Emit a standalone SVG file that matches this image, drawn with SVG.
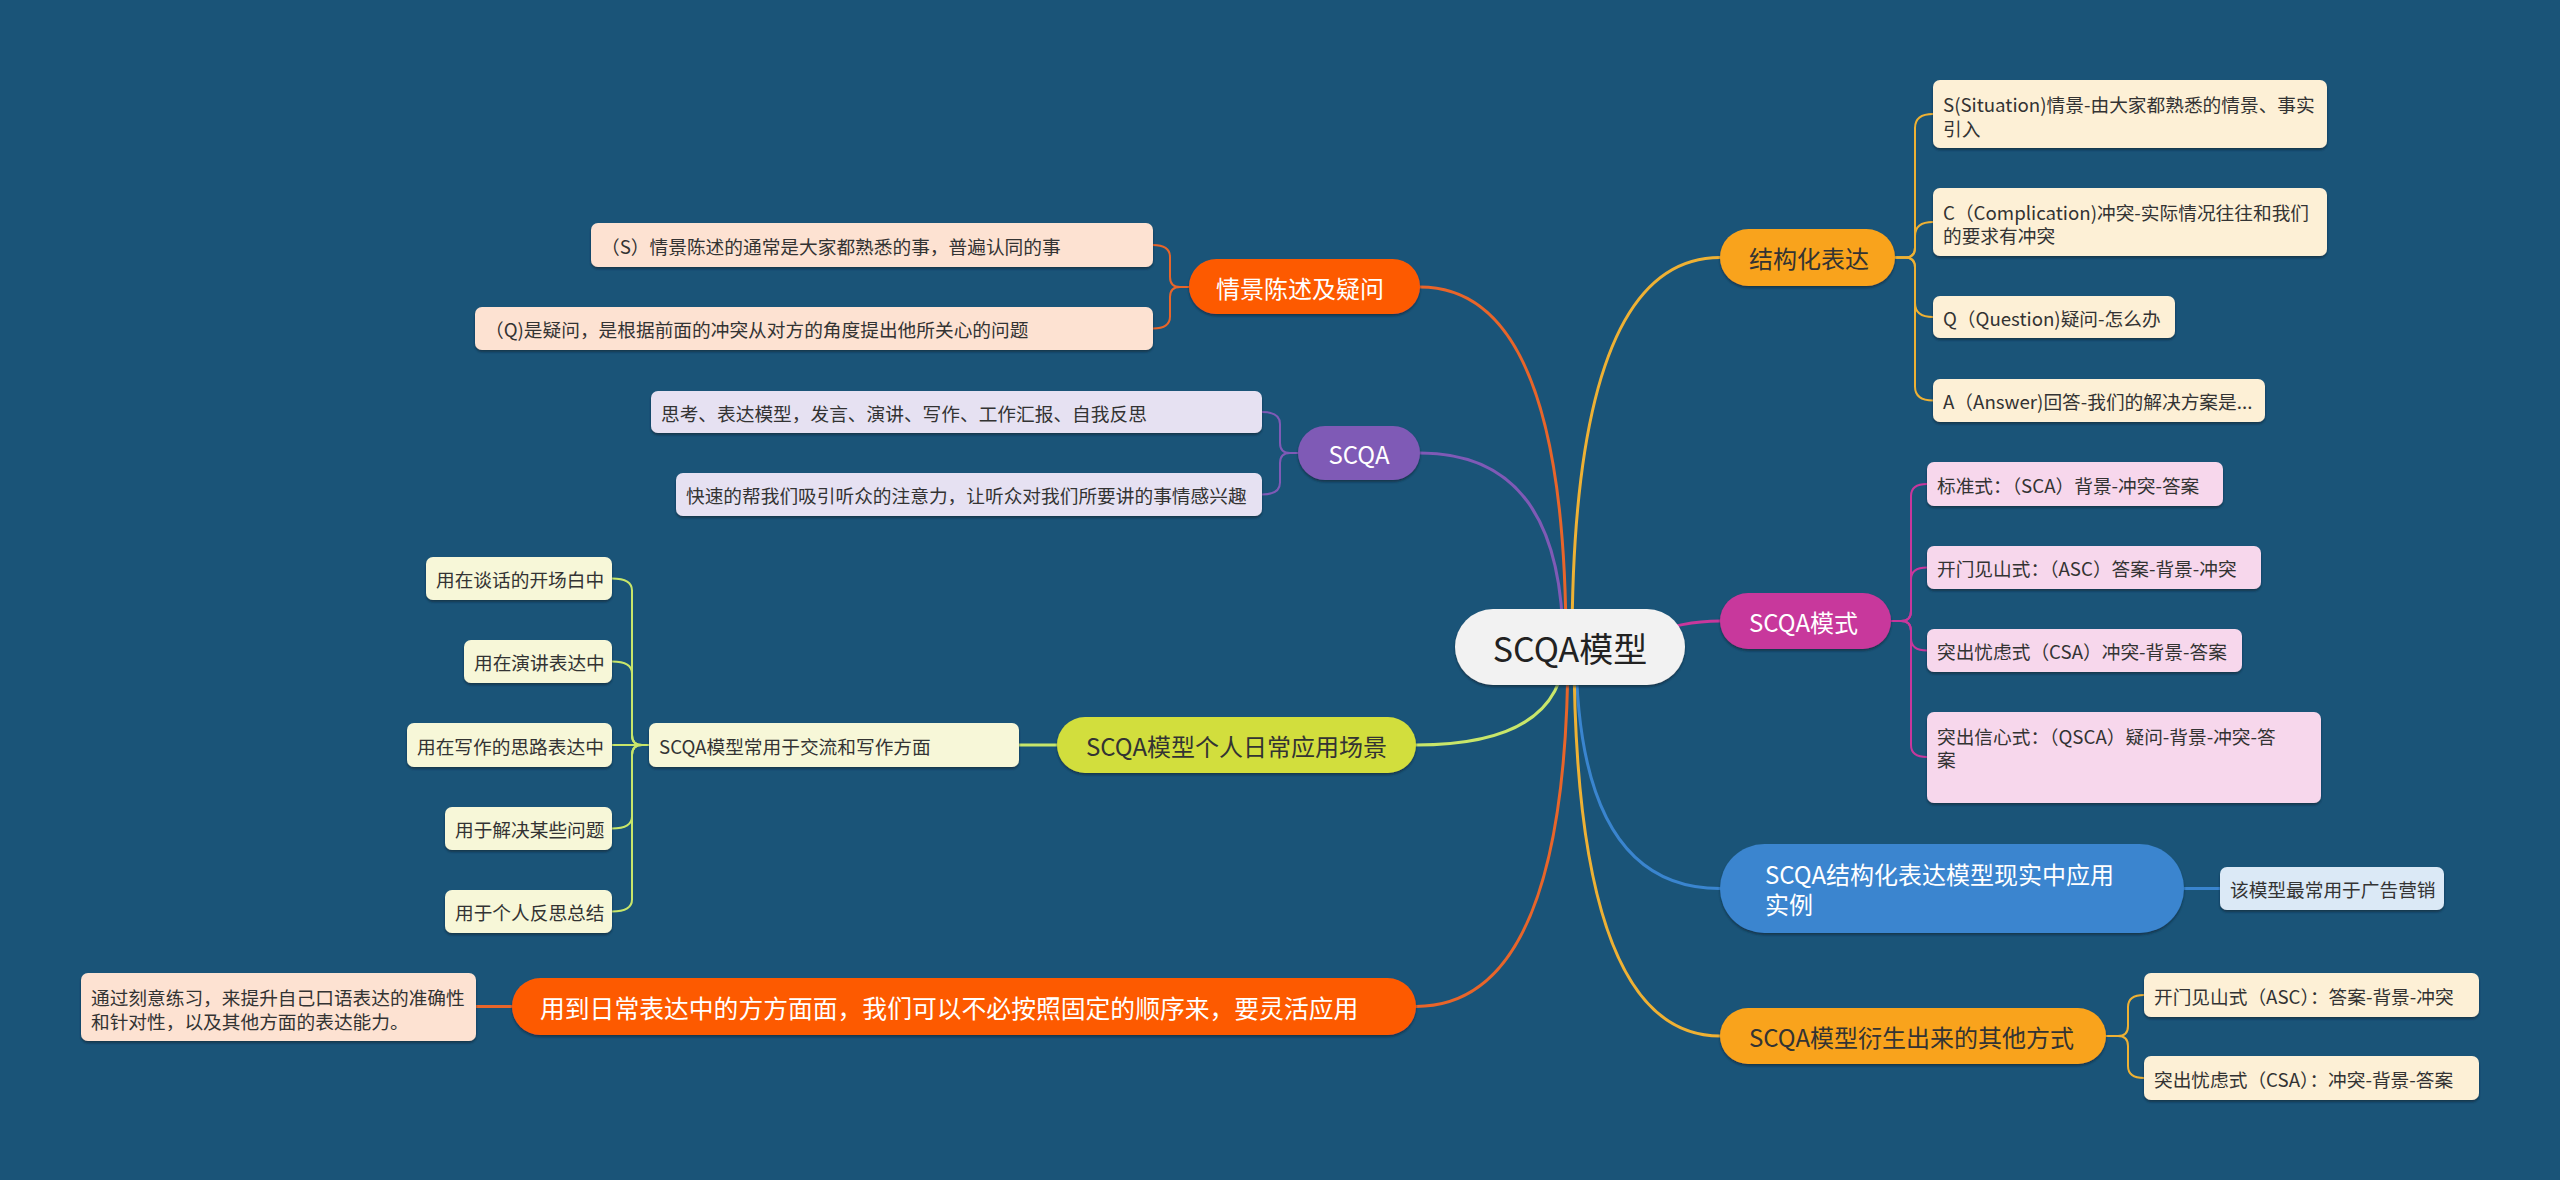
<svg xmlns="http://www.w3.org/2000/svg" width="2560" height="1180" viewBox="0 0 2560 1180">
<defs>
<filter id="sh" x="-5%" y="-20%" width="110%" height="150%"><feDropShadow dx="0" dy="2" stdDeviation="1.2" flood-color="#08263a" flood-opacity="0.7"/></filter>
</defs>
<style>
text{font-family:"Noto Sans CJK SC","Noto Sans",sans-serif;dominant-baseline:central}
.main{font-size:24px}
.leaf{font-size:18.7px;fill:#333}
.w{fill:#fff}
.d{fill:#333}
.c{fill:none;stroke-width:3;stroke-linecap:round}
.s{fill:none;stroke-width:2}
.or{stroke:#e8652a}.pu{stroke:#7f5ab6}.gr{stroke:#c8e66a}.ye{stroke:#eeb134}.mg{stroke:#c8379c}.bl{stroke:#3a85cf}
.lp{fill:#fde2d2}.ll{fill:#e6e1f2}.lg{fill:#f7f7d8}.lc{fill:#fdf0d6}.lk{fill:#f7d7ec}.lb{fill:#dbe9f6}
rect{filter:url(#sh)}
</style>
<rect x="0" y="0" width="2560" height="1180" fill="#1a5478" style="filter:none"/>
<g id="connectors">
<path class="c or" d="M1420 287 Q1566 287 1566 646"/>
<path class="c pu" d="M1420 453 Q1563 453 1563 646"/>
<path class="c gr" d="M1416 745 Q1565 745 1565 646"/>
<path class="c or" d="M1416 1006.5 Q1568 1006.5 1568 646"/>
<path class="c ye" d="M1720 257.5 Q1572 257.5 1572 646"/>
<path class="c mg" d="M1570 646 C1640 646 1660 621 1720 621"/>
<path class="c bl" d="M1720 888.5 Q1576 888.5 1576 646"/>
<path class="c ye" d="M1720 1036 Q1574 1036 1574 646"/>
<g class="s ye">
<path d="M1895 257.5 H1905 Q1915 257.5 1915 247.5 L1915 128 Q1915 114 1933 114"/>
<path d="M1895 257.5 H1905 Q1915 257.5 1915 247.5 L1915 236 Q1915 222 1933 222"/>
<path d="M1895 257.5 H1905 Q1915 257.5 1915 267.5 L1915 303 Q1915 317 1933 317"/>
<path d="M1895 257.5 H1905 Q1915 257.5 1915 267.5 L1915 386.5 Q1915 400.5 1933 400.5"/>
<path d="M2106 1036 H2118 Q2128 1036 2128 1026 L2128 1007 Q2128 995 2144 995"/>
<path d="M2106 1036 H2118 Q2128 1036 2128 1046 L2128 1066 Q2128 1078 2144 1078"/>
</g>
<g class="s mg">
<path d="M1891 621 H1901 Q1911 621 1911 611 L1911 496 Q1911 484 1927 484"/>
<path d="M1891 621 H1901 Q1911 621 1911 611 L1911 579.5 Q1911 567.5 1927 567.5"/>
<path d="M1891 621 H1901 Q1911 621 1911 631 L1911 638.5 Q1911 650.5 1927 650.5"/>
<path d="M1891 621 H1901 Q1911 621 1911 631 L1911 745 Q1911 757 1927 757"/>
</g>
<path class="s bl" d="M2184 888.5 L2220 888.5" style="stroke-width:3"/>
<g class="s or">
<path d="M1189 287 H1180 Q1170 287 1170 277 L1170 257 Q1170 245 1153 245"/>
<path d="M1189 287 H1180 Q1170 287 1170 297 L1170 316.5 Q1170 328.5 1153 328.5"/>
<path d="M512 1006.5 L476 1006.5" style="stroke-width:3"/>
</g>
<g class="s pu">
<path d="M1298 453 H1290 Q1280 453 1280 443 L1280 424 Q1280 412 1262 412"/>
<path d="M1298 453 H1290 Q1280 453 1280 463 L1280 482.5 Q1280 494.5 1262 494.5"/>
</g>
<g class="s gr">
<path d="M1057 745 L1019 745" style="stroke-width:3"/>
<path d="M649 745 H642 Q632 745 632 735 L632 590.5 Q632 578.5 612 578.5"/>
<path d="M649 745 H642 Q632 745 632 735 L632 673.5 Q632 661.5 612 661.5"/>
<path d="M649 745 L612 745"/>
<path d="M649 745 H642 Q632 745 632 755 L632 816.5 Q632 828.5 612 828.5"/>
<path d="M649 745 H642 Q632 745 632 755 L632 899.5 Q632 911.5 612 911.5"/>
</g>
</g>
<g id="center"><rect x="1455" y="609" width="230" height="76" rx="38" fill="#f2f2f2"/><text x="1570" y="647" font-size="34" fill="#222" text-anchor="middle">SCQA模型</text></g>
<g id="n-qjcs"><rect x="1189" y="259" width="231" height="55" rx="27.5" fill="#fd5a06"/><text class="main w" x="1216" y="287">情景陈述及疑问</text></g>
<g id="n-scqa"><rect x="1298" y="426" width="122" height="54" rx="27" fill="#7f5ab6"/><text class="main w" x="1359" y="453" text-anchor="middle">SCQA</text></g>
<g id="n-grrc"><rect x="1057" y="717" width="359" height="56" rx="28" fill="#d2de3c"/><text class="main d" x="1086" y="745">SCQA模型个人日常应用场景</text></g>
<g id="n-ydrc"><rect x="512" y="978" width="904" height="57" rx="28.5" fill="#fd5a06"/><text class="main w" x="540" y="1006.5" style="font-size:24.8px">用到日常表达中的方方面面，我们可以不必按照固定的顺序来，要灵活应用</text></g>
<g id="n-jgh"><rect x="1720" y="229" width="175" height="57" rx="28.5" fill="#f9a31a"/><text class="main d" x="1749" y="257.5">结构化表达</text></g>
<g id="n-ms"><rect x="1720" y="593" width="171" height="56" rx="28" fill="#c8379c"/><text class="main w" x="1749" y="621">SCQA模式</text></g>
<g id="n-sl"><rect x="1720" y="844" width="464" height="89" rx="44.5" fill="#3a85cf"/><text class="main w" x="1765" y="873">SCQA结构化表达模型现实中应用</text><text class="main w" x="1765" y="903">实例</text></g>
<g id="n-ys"><rect x="1720" y="1008" width="386" height="56" rx="28" fill="#f9a31a"/><text class="main d" x="1749" y="1036">SCQA模型衍生出来的其他方式</text></g>
<g id="l1"><rect class="lp" x="591" y="223" width="562" height="44" rx="7"/><text class="leaf" x="601" y="245">（S）情景陈述的通常是大家都熟悉的事，普遍认同的事</text></g>
<g id="l2"><rect class="lp" x="475" y="307" width="678" height="43" rx="7"/><text class="leaf" x="485" y="328.5">（Q)是疑问，是根据前面的冲突从对方的角度提出他所关心的问题</text></g>
<g id="l3"><rect class="ll" x="651" y="391" width="611" height="42" rx="7"/><text class="leaf" x="661" y="412">思考、表达模型，发言、演讲、写作、工作汇报、自我反思</text></g>
<g id="l4"><rect class="ll" x="676" y="473" width="586" height="43" rx="7"/><text class="leaf" x="686" y="494.5">快速的帮我们吸引听众的注意力，让听众对我们所要讲的事情感兴趣</text></g>
<g id="l5"><rect class="lg" x="426" y="557" width="186" height="43" rx="7"/><text class="leaf" x="436" y="578.5">用在谈话的开场白中</text></g>
<g id="l6"><rect class="lg" x="464" y="640" width="148" height="43" rx="7"/><text class="leaf" x="474" y="661.5">用在演讲表达中</text></g>
<g id="l7"><rect class="lg" x="407" y="723" width="205" height="44" rx="7"/><text class="leaf" x="417" y="745">用在写作的思路表达中</text></g>
<g id="l8"><rect class="lg" x="445" y="807" width="167" height="43" rx="7"/><text class="leaf" x="455" y="828.5">用于解决某些问题</text></g>
<g id="l9"><rect class="lg" x="445" y="890" width="167" height="43" rx="7"/><text class="leaf" x="455" y="911.5">用于个人反思总结</text></g>
<g id="l10"><rect class="lg" x="649" y="723" width="370" height="44" rx="7"/><text class="leaf" x="659" y="745">SCQA模型常用于交流和写作方面</text></g>
<g id="l11"><rect class="lp" x="81" y="973" width="395" height="68" rx="7"/><text class="leaf" x="91" y="996">通过刻意练习，来提升自己口语表达的准确性</text><text class="leaf" x="91" y="1020">和针对性，以及其他方面的表达能力。</text></g>
<g id="r1"><rect class="lc" x="1933" y="80" width="394" height="68" rx="7"/><text class="leaf" x="1943" y="103">S(Situation)情景-由大家都熟悉的情景、事实</text><text class="leaf" x="1943" y="127">引入</text></g>
<g id="r2"><rect class="lc" x="1933" y="188" width="394" height="68" rx="7"/><text class="leaf" x="1943" y="211">C（Complication)冲突-实际情况往往和我们</text><text class="leaf" x="1943" y="234">的要求有冲突</text></g>
<g id="r3"><rect class="lc" x="1933" y="296" width="242" height="42" rx="7"/><text class="leaf" x="1943" y="317">Q（Question)疑问-怎么办</text></g>
<g id="r4"><rect class="lc" x="1933" y="379" width="332" height="43" rx="7"/><text class="leaf" x="1943" y="400.5">A（Answer)回答-我们的解决方案是...</text></g>
<g id="r5"><rect class="lk" x="1927" y="462" width="296" height="44" rx="7"/><text class="leaf" x="1937" y="484">标准式：（SCA）背景-冲突-答案</text></g>
<g id="r6"><rect class="lk" x="1927" y="546" width="334" height="43" rx="7"/><text class="leaf" x="1937" y="567.5">开门见山式：（ASC）答案-背景-冲突</text></g>
<g id="r7"><rect class="lk" x="1927" y="629" width="315" height="43" rx="7"/><text class="leaf" x="1937" y="650.5">突出忧虑式（CSA）冲突-背景-答案</text></g>
<g id="r8"><rect class="lk" x="1927" y="712" width="394" height="91" rx="7"/><text class="leaf" x="1937" y="735">突出信心式：（QSCA）疑问-背景-冲突-答</text><text class="leaf" x="1937" y="758">案</text></g>
<g id="r9"><rect class="lb" x="2220" y="867" width="224" height="43" rx="7"/><text class="leaf" x="2230" y="888.5">该模型最常用于广告营销</text></g>
<g id="r10"><rect class="lc" x="2144" y="973" width="335" height="44" rx="7"/><text class="leaf" x="2154" y="995">开门见山式（ASC）：答案-背景-冲突</text></g>
<g id="r11"><rect class="lc" x="2144" y="1056" width="335" height="44" rx="7"/><text class="leaf" x="2154" y="1078">突出忧虑式（CSA）：冲突-背景-答案</text></g>
</svg>
